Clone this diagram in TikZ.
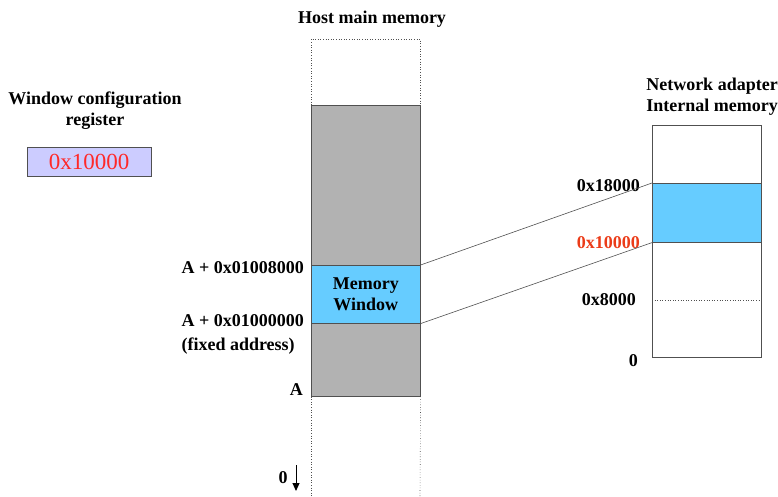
\documentclass[tikz,border=0pt]{standalone}
\usepackage{fontspec}
\setmainfont{Liberation Serif}
\usepackage{xcolor}
\usetikzlibrary{arrows.meta, positioning}

\definecolor{memgray}{RGB}{178,178,178}
\definecolor{winblue}{RGB}{102,204,255}
\definecolor{reglav}{RGB}{204,204,255}
\definecolor{regred}{RGB}{255,40,40}
\definecolor{addrred}{RGB}{235,60,25}
\definecolor{edgegray}{RGB}{80,80,80}

\begin{document}
\begin{tikzpicture}[x=1pt, y=-1pt,
    lbl/.style={font=\fontsize{18}{21}\selectfont\bfseries, inner sep=0pt},
    cell/.style={draw=edgegray, line width=0.6pt, inner sep=0pt, anchor=north west, minimum width=109pt}]
    \useasboundingbox (0,0) rectangle (778,497);

    % host main memory
    \node[lbl] (hosttitle) at (372,19) {Host main memory};
    \draw[edgegray, dotted, line width=0.6pt] (311,105) -- (311,39) -- (420,39) -- (420,105);
    \node[cell, fill=memgray, minimum height=160pt] (hosthigh) at (311,105) {};
    \node[cell, fill=winblue, minimum height=58pt, align=center, lbl] (win) at (311,265) {Memory\\Window};
    \node[cell, fill=memgray, minimum height=73pt] (hostlow) at (311,323) {};
    \draw[edgegray, dotted, line width=0.6pt] (hostlow.south west) -- (311,497);
    \draw[edgegray, dotted, line width=0.6pt] (hostlow.south east) -- (420,497);

    \node[lbl, anchor=east] (addrhigh) at (304,268) {A + 0x01008000};
    \node[lbl, anchor=north east, align=left] (addrlow) at (304,314) {A + 0x01000000\\[3pt](fixed address)};
    \node[lbl, anchor=east] (addra) at (303,390) {A};
    \node[lbl] (addrzero) at (283,478) {0};
    \coordinate (downtop) at (296,465);
    \coordinate (downend) at (296,491);
    \draw[-{Triangle[length=8pt, width=7pt]}, line width=1pt] (downtop) -- (downend);

    % window configuration register
    \node[lbl, align=center] (regtitle) at (95,111) {Window configuration\\register};
    \node[draw=edgegray, line width=0.8pt, fill=reglav, minimum width=124pt, minimum height=29pt, inner sep=0pt,
          font=\fontsize{23}{23}\selectfont, text=regred] (reg) at (89,161.5) {0x10000};

    % network adapter internal memory
    \node[lbl, align=center] (nettitle) at (712,97) {Network adapter\\Internal memory};
    \node[cell, minimum height=58pt] (nettop) at (652,125) {};
    \node[cell, fill=winblue, minimum height=59pt] (netwin) at (652,183) {};
    \node[cell, minimum height=115pt] (netlow) at (652,242) {};
    \draw[edgegray, dotted, line width=0.6pt] (652,300) -- (761,300);

    \node[lbl, anchor=east] (n18000) at (640,186) {0x18000};
    \node[lbl, anchor=east, text=addrred] (n10000) at (640,243) {0x10000};
    \node[lbl, anchor=east] (n8000) at (636,300) {0x8000};
    \node[lbl, anchor=east] (nzero) at (638,361) {0};

    % window mapping
    \draw[edgegray, line width=0.6pt] (win.north east) -- (netwin.north west);
    \draw[edgegray, line width=0.6pt] (win.south east) -- (netwin.south west);
\end{tikzpicture}
\end{document}
